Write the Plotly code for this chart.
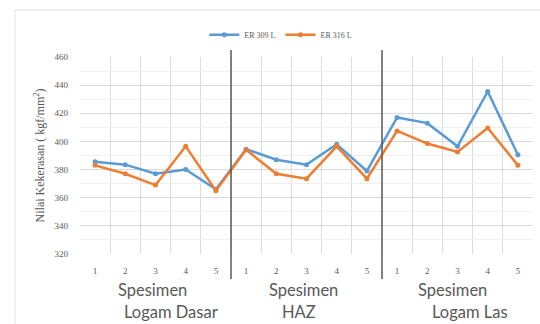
import plotly.graph_objects as go

specimens = ["1", "2", "3", "4", "5", "1", "2", "3", "4", "5", "1", "2", "3", "4", "5"]
groups = ["Logam Dasar", "HAZ", "Logam Las"]
er309 = [385.5, 383.5, 377, 380, 366, 394.5, 387, 383.5, 398, 379, 417, 413, 396.5, 435.5, 390.5]
er316 = [383, 377, 369, 396.5, 365, 394, 377, 373.5, 396.5, 373.5, 407.5, 398.5, 392.5, 409.5, 383]
y_ticks = [320, 340, 360, 380, 400, 420, 440, 460]

x = list(range(len(specimens)))

fig = go.Figure()
fig.add_trace(go.Scatter(x=x, y=er309, name="ER 309 L", mode="lines+markers",
                         line=dict(color="#5B9BD5", width=2.5),
                         marker=dict(size=5, color="#5B9BD5")))
fig.add_trace(go.Scatter(x=x, y=er316, name="ER 316 L", mode="lines+markers",
                         line=dict(color="#ED7D31", width=2.5),
                         marker=dict(size=5, color="#ED7D31")))

gray = "#595959"
fig.update_layout(
    width=540, height=324,
    margin=dict(l=80, r=7, t=57, b=70, autoexpand=False),
    paper_bgcolor="white", plot_bgcolor="white",
    showlegend=True,
    legend=dict(orientation="h", xref="container", x=0.52, xanchor="center",
                yref="container", y=0.893, yanchor="middle",
                font=dict(family="Liberation Serif", size=8, color=gray),
                itemwidth=30, bgcolor="rgba(0,0,0,0)"),
    xaxis=dict(range=[-0.5, 14.5], tickvals=x, ticktext=specimens,
               showgrid=False, zeroline=False, showline=False, ticks="",
               tickfont=dict(family="Liberation Serif", size=9, color=gray),
               ticklabelstandoff=10,
               minor=dict(tickvals=[i - 0.5 for i in range(16)], showgrid=True,
                          gridcolor="#dcdcdc", gridwidth=1, ticks="")),
    yaxis=dict(range=[320, 460], tickvals=y_ticks, showgrid=True, gridcolor="#d9d9d9",
               zeroline=False, showline=False, ticks="",
               tickfont=dict(family="Liberation Serif", size=9, color=gray),
               ticklabelstandoff=11,
               minor=dict(dtick=10, showgrid=True, gridcolor="#efefef", ticks=""),
               title=dict(text="Nilai Kekerasan ( kgf/mm<sup>2</sup>)",
                          font=dict(family="Liberation Serif", size=12, color=gray),
                          standoff=7)),
)

# group separators
for sx in [4.5, 9.5]:
    fig.add_shape(type="line", xref="x", yref="paper", x0=sx, x1=sx, y0=-0.127, y1=1.036,
                  line=dict(color="#5a5a5a", width=1.5))

# outer chart border
fig.add_shape(type="rect", xref="paper", yref="paper", x0=-0.1435, x1=1.03, y0=-0.4, y1=1.2386,
              line=dict(color="#e3e3e3", width=1), layer="below")

spes_x = [152, 303, 452]
grp_x = [171, 299, 470]
for sx, gx, g in zip(spes_x, grp_x, groups):
    fig.add_annotation(text="Spesimen", xref="paper", yref="paper",
                       x=(sx - 80) / 453, y=-(290 - 254) / 197, xanchor="center", yanchor="middle",
                       showarrow=False, font=dict(family="Lato", size=16.5, color=gray))
    fig.add_annotation(text=g, xref="paper", yref="paper",
                       x=(gx - 80) / 453, y=-(312 - 254) / 197, xanchor="center", yanchor="middle",
                       showarrow=False, font=dict(family="Lato", size=16.5, color=gray))

fig.write_html("out.html", config={"displayModeBar": False},
               post_script="document.body.style.margin='0';")
